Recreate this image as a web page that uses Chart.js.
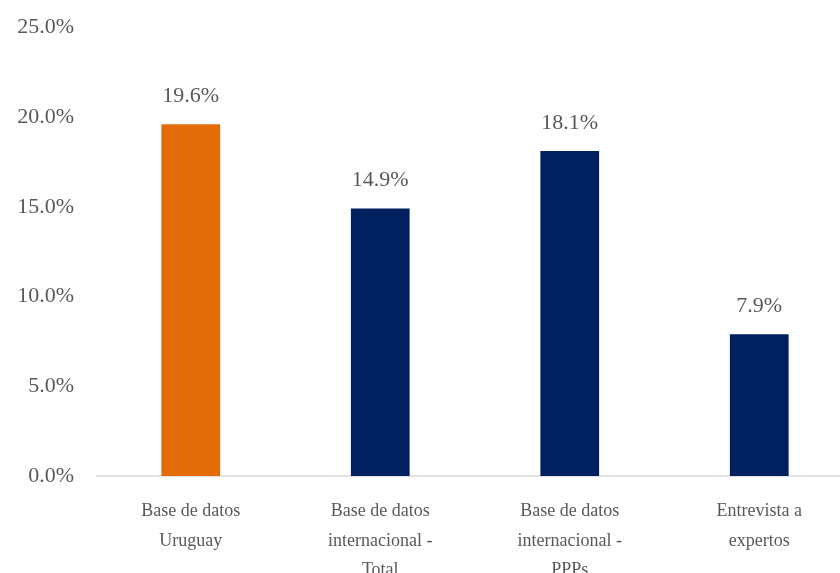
<!DOCTYPE html>
<html>
<head>
<meta charset="utf-8">
<script src="https://cdn.jsdelivr.net/npm/chart.js@4"></script>
<style>
  html, body { margin: 0; padding: 0; background: #fff; overflow: hidden; }
  canvas { display: block; }
</style>
</head>
<body>
<canvas id="grafico" width="860" height="600"></canvas>
<script>
// datos del gráfico
const categorias = [
    ['Base de datos', 'Uruguay'],
    ['Base de datos', 'internacional -', 'Total'],
    ['Base de datos', 'internacional -', 'PPPs'],
    ['Entrevista a', 'expertos']
];
const valores = [19.6, 14.9, 18.1, 7.9];
const colores = ['#E36C09', '#002060', '#002060', '#002060'];
const ticksY = [0, 5, 10, 15, 20, 25];

const gris = '#595959';
const fuente = 'Liberation Serif, Times New Roman, serif';

// linea base del eje x
const lineaBase = {
    id: 'lineaBase',
    beforeDatasetsDraw(chart) {
        const ctx = chart.ctx;
        const y = chart.scales.y.getPixelForValue(0);
        ctx.save();
        ctx.strokeStyle = '#D9D9D9';
        ctx.lineWidth = 1.5;
        ctx.beginPath();
        ctx.moveTo(chart.chartArea.left, y);
        ctx.lineTo(chart.width, y);
        ctx.stroke();
        ctx.restore();
    }
};

// etiquetas encima de las barras
const etiquetas = {
    id: 'etiquetas',
    afterDatasetsDraw(chart) {
        const ctx = chart.ctx;
        ctx.save();
        ctx.font = '22px ' + fuente;
        ctx.fillStyle = gris;
        ctx.textAlign = 'center';
        ctx.textBaseline = 'middle';
        chart.getDatasetMeta(0).data.forEach((bar, i) => {
            ctx.fillText(valores[i].toFixed(1) + '%', bar.x, bar.y - 28);
        });
        ctx.restore();
    }
};

new Chart(document.getElementById('grafico'), {
    type: 'bar',
    data: {
        labels: categorias,
        datasets: [{
            data: valores,
            backgroundColor: colores,
            barPercentage: 0.62,
            categoryPercentage: 0.5
        }]
    },
    options: {
        responsive: false,
        animation: false,
        layout: { padding: { top: 25, left: 10, right: 6, bottom: 0 } },
        plugins: {
            legend: { display: false },
            tooltip: { enabled: false }
        },
        scales: {
            x: {
                grid: { display: false },
                border: { display: false },
                ticks: {
                    color: gris,
                    font: { family: fuente, size: 18, lineHeight: '29.5px' },
                    padding: 13,
                    maxRotation: 0,
                    autoSkip: false
                },
                afterFit: s => { s.height = 124; }
            },
            y: {
                min: 0,
                max: 25,
                afterBuildTicks: s => { s.ticks = ticksY.map(v => ({ value: v })); },
                grid: { display: false },
                border: { display: false },
                ticks: {
                    color: gris,
                    font: { family: fuente, size: 22 },
                    padding: 14,
                    callback: v => v.toFixed(1) + '%'
                },
                afterFit: s => { s.width = 86; }
            }
        }
    },
    plugins: [lineaBase, etiquetas]
});
</script>
</body>
</html>
